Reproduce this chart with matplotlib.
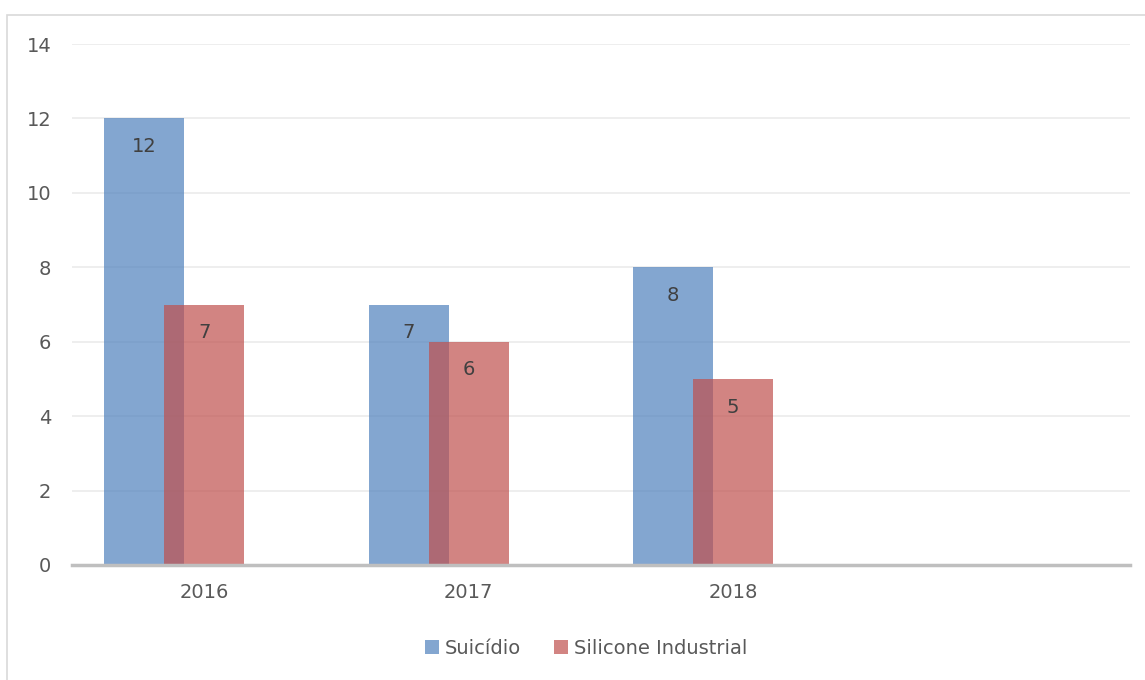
import numpy as np
import matplotlib.pyplot as plt
from matplotlib.patches import Rectangle

anos = ['2016', '2017', '2018', '']
suicidio = [12, 7, 8]
silicone = [7, 6, 5]
series_names = ['Suicídio', 'Silicone Industrial']

plt.rcParams['font.family'] = ['DejaVu Sans']
cinza = '#595959'

fig = plt.figure(figsize=(11.45, 6.8), dpi=100)
ax = fig.add_axes([72/1145, 1 - 565/680, (1130 - 72)/1145, (565 - 44)/680])

# moldura do gráfico
fig.patches.append(Rectangle((7/1145, -0.05), 1.2, 1 - 15/680 + 0.05, transform=fig.transFigure,
                             fill=False, edgecolor='#D9D9D9', linewidth=1.2, zorder=0))

x = np.arange(len(suicidio))
w = 80 / 264.5
b1 = ax.bar(x - 60/264.5, suicidio, width=w, color='#4F81BD', alpha=0.7, label=series_names[0], zorder=2)
b2 = ax.bar(x, silicone, width=w, color='#C0504D', alpha=0.7, label=series_names[1], zorder=3)

for bars in (b1, b2):
    for r in bars:
        ax.text(r.get_x() + r.get_width()/2, r.get_height() - 0.76, f'{int(r.get_height())}',
                ha='center', va='center', fontsize=14, color='#404040', zorder=4)

ax.set_xlim(-0.5, 3.5)
ax.set_ylim(0, 14)
ax.set_yticks(range(0, 15, 2))
ax.set_xticks(range(len(anos)))
ax.set_xticklabels(anos)
ax.yaxis.grid(True, color='#EDEDED', linewidth=1.3, zorder=0)
ax.set_axisbelow(True)
for s in ['top', 'right', 'left']:
    ax.spines[s].set_visible(False)
ax.spines['bottom'].set_color('#BFBFBF')
ax.spines['bottom'].set_linewidth(2.5)
ax.spines['bottom'].set_zorder(5)
ax.tick_params(axis='y', length=0, pad=15, labelsize=14, labelcolor=cinza)
ax.tick_params(axis='x', length=0, pad=13, labelsize=14, labelcolor=cinza)

fig.legend(handles=[b1, b2], loc='center', bbox_to_anchor=(0.512, 1 - 648/680), ncol=2,
           frameon=False, fontsize=14, labelcolor=cinza, handlelength=0.7, handleheight=0.7,
           handletextpad=0.3, columnspacing=1.7)

fig.savefig('out.png', dpi=100)
